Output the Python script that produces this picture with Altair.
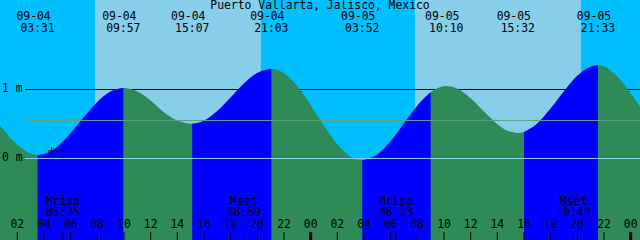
import altair as alt
import pandas as pd

TITLE = "Puerto Vallarta, Jalisco, Mexico"

# Tide curve readings: hours after 09-04 00:00 and height in metres
curve_t = [0.7, 1, 2, 3, 3.517, 4, 5, 6, 7, 8, 9, 9.95,
           11, 12, 13, 14, 15.117, 16, 17, 18, 19, 20, 21.05,
           22, 23, 24, 25, 26, 27, 27.867, 29, 30, 31, 32, 33, 34.167,
           35, 36, 37, 38, 39, 39.533, 40, 41, 42, 43, 44, 45, 45.55,
           46, 47, 48, 48.7]
curve_h = [0.48, 0.41, 0.20, 0.07, 0.05, 0.063, 0.17, 0.365, 0.60, 0.82, 0.97, 1.02,
           0.97, 0.84, 0.67, 0.55, 0.505, 0.548, 0.687, 0.885, 1.088, 1.239, 1.30,
           1.237, 1.05, 0.777, 0.474, 0.205, 0.027, -0.025, 0.059, 0.251, 0.508, 0.766, 0.961, 1.05,
           1.01, 0.872, 0.68, 0.498, 0.386, 0.37, 0.385, 0.507, 0.723, 0.976, 1.198, 1.33, 1.35,
           1.334, 1.19, 0.95, 0.75]

# High / low tide events
event_day = [0, 0, 0, 0, 1, 1, 1, 1]
event_date = ["09-04", "09-04", "09-04", "09-04", "09-05", "09-05", "09-05", "09-05"]
event_time = ["03:31", "09:57", "15:07", "21:03", "03:52", "10:10", "15:32", "21:33"]
event_kind = ["low", "high", "low", "high", "low", "high", "low", "high"]

# Moon events
moon_day = [0, 0, 1, 1]
moon_name = ["Mrise", "Mset", "Mrise", "Mset"]
moon_time = ["05:25", "18:59", "06:23", "19:42"]

# Daylight (hours after 09-04 00:00)
sun_rise = [7.82, 31.82]
sun_set = [20.27, 44.27]

# Hour axis
hour_t = list(range(2, 49, 2))
hour_label = ["02", "04", "06", "08", "10", "12", "14", "16", "18", "20", "22", "00",
              "02", "04", "06", "08", "10", "12", "14", "16", "18", "20", "22", "00"]

level_h = [0, 1]
level_label = ["0 m", "1 m"]
mean_level = [0.55]

marker_t = [4.58]
marker_h = [0.11]

T0, T1 = 0.7, 48.7
Y0, Y1 = -1.18116, 2.29710
FONT = "DejaVu Sans Mono"
FS = 11.4


def hours(day, hhmm):
    hh, mm = hhmm.split(":")
    return day * 24 + int(hh) + int(mm) / 60.0


xs = alt.Scale(domain=[T0, T1], nice=False, zero=False)
ys = alt.Scale(domain=[Y0, Y1], nice=False, zero=False)

curve = pd.DataFrame({"t": curve_t, "h": curve_h})
curve["base"] = Y0
ev = pd.DataFrame({
    "t": [hours(d, s) for d, s in zip(event_day, event_time)],
    "date": event_date, "time": event_time, "kind": event_kind,
})
moon = pd.DataFrame({
    "t": [hours(d, s) for d, s in zip(moon_day, moon_time)],
    "name": moon_name, "time": moon_time,
})

# rising segments: from each low to the following high
rows = []
lows = ev[ev.kind == "low"].t.tolist()
highs = ev[ev.kind == "high"].t.tolist()
for i, (lo, hi) in enumerate(zip(lows, highs)):
    part = curve[(curve.t >= lo - 1e-6) & (curve.t <= hi + 1e-6)].copy()
    part["seg"] = i
    rows.append(part)
rise = pd.concat(rows, ignore_index=True)

sun = pd.DataFrame({"a": sun_rise, "b": sun_set})
hrs = pd.DataFrame({"t": hour_t, "label": hour_label})
lev = pd.DataFrame({"h": level_h, "label": level_label})
mean = pd.DataFrame({"h": mean_level})
mk = pd.DataFrame({"t": marker_t, "h": marker_h})
ttl = pd.DataFrame({"title": [TITLE]})


def X(f="t"):
    return alt.X(f"{f}:Q", scale=xs, axis=None)


def Y(f="h"):
    return alt.Y(f"{f}:Q", scale=ys, axis=None)


day = alt.Chart(sun).mark_rect(color="#87CEEB").encode(
    x=X("a"), x2="b:Q", y=alt.value(0), y2=alt.value(240))

one_m = alt.Chart(lev[lev.h == 1]).mark_rule(color="#000000", strokeWidth=1).encode(
    y=Y(), x=alt.value(25), x2=alt.value(640))

fall_area = alt.Chart(curve).mark_area(color="#2E8B57", interpolate="monotone").encode(
    x=X(), y=Y(), y2="base:Q")

rise_area = alt.Chart(rise).mark_area(color="#0000FF", interpolate="monotone").encode(
    x=X(), y=Y(), y2="base:Q", detail="seg:N")

zero_line = alt.Chart(lev[lev.h == 0]).mark_rule(color="#87CEEB", strokeWidth=1).encode(
    y=Y(), x=alt.value(25), x2=alt.value(640))

mean_line = alt.Chart(mean).mark_rule(color="#5f9f86", strokeWidth=1).encode(
    y=Y(), x=alt.value(25), x2=alt.value(640))

lev_text = alt.Chart(lev).mark_text(font=FONT, fontSize=FS, align="left", baseline="middle",
                                    color="black").encode(
    y=Y(), x=alt.value(2), text="label:N")

hour_ticks = alt.Chart(hrs).mark_rule(color="black").encode(
    x=X(), y=alt.value(232), y2=alt.value(240),
    strokeWidth=alt.condition(alt.datum.label == "00", alt.value(3), alt.value(1)))

moon_ticks = alt.Chart(moon).mark_rule(color="black", strokeWidth=1).encode(
    x=X(), y=alt.value(232), y2=alt.value(240))

hour_text = alt.Chart(hrs).mark_text(font=FONT, fontSize=FS, baseline="middle",
                                     color="black").encode(
    x=X(), y=alt.value(225), text="label:N")

moon_name_text = alt.Chart(moon).mark_text(font=FONT, fontSize=FS, baseline="middle",
                                           color="black").encode(
    x=X(), y=alt.value(202), text="name:N")
moon_time_text = alt.Chart(moon).mark_text(font=FONT, fontSize=FS, baseline="middle",
                                           color="black").encode(
    x=X(), y=alt.value(213), text="time:N")

ev_date = alt.Chart(ev).mark_text(font=FONT, fontSize=FS, baseline="middle", dx=-4,
                                  color="black").encode(
    x=X(), y=alt.value(17), text="date:N")
ev_time = alt.Chart(ev).mark_text(font=FONT, fontSize=FS, baseline="middle",
                                  color="black").encode(
    x=X(), y=alt.value(29), text="time:N")

title = alt.Chart(ttl).mark_text(font=FONT, fontSize=FS, baseline="middle",
                                 color="black").encode(
    x=alt.value(320), y=alt.value(6), text="title:N")

marker = alt.Chart(mk).mark_point(shape="M-1,0H1M0,-1V1", filled=False, color="black",
                                  strokeWidth=1, size=56, opacity=1).encode(
    x=X(), y=Y())

chart = alt.layer(
    day, one_m, fall_area, rise_area, zero_line, mean_line, lev_text,
    hour_ticks, moon_ticks, hour_text, moon_name_text, moon_time_text,
    ev_date, ev_time, title, marker,
).properties(
    width=640, height=240, padding=0, background="#00BFFF",
    autosize=alt.AutoSizeParams(type="none"),
).configure_view(stroke=None)

chart.save("out.html", embed_options={"renderer": "svg", "actions": False})
